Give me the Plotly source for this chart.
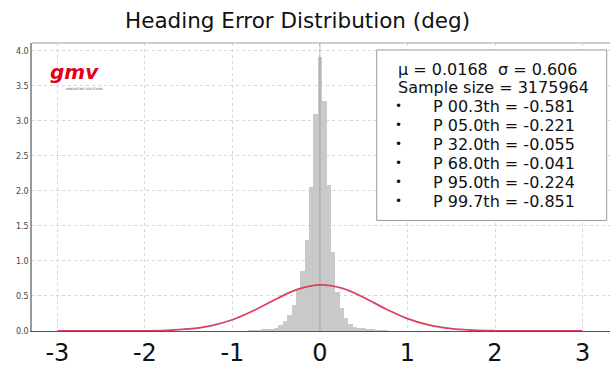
import plotly.graph_objects as go

# ---- data ----
bin_centers = [-0.80, -0.75, -0.70, -0.65, -0.60, -0.55, -0.50, -0.45, -0.40, -0.35,
               -0.30, -0.25, -0.20, -0.15, -0.10, -0.05, 0.00, 0.05, 0.10, 0.15,
               0.20, 0.25, 0.30, 0.35, 0.40, 0.45, 0.50, 0.55, 0.60, 0.65, 0.70, 0.75]
density = [0.005, 0.008, 0.01, 0.015, 0.02, 0.03, 0.04, 0.08, 0.14, 0.23,
           0.37, 0.60, 0.86, 1.30, 2.05, 3.10, 3.92, 3.29, 2.08, 1.13,
           0.56, 0.33, 0.18, 0.10, 0.06, 0.05, 0.04, 0.03, 0.02, 0.012, 0.008, 0.005]

curve_x = [-3.0, -2.5, -2.0, -1.75, -1.5, -1.25, -1.0, -0.75, -0.5, -0.25, 0.0,
           0.25, 0.5, 0.75, 1.0, 1.25, 1.5, 1.75, 2.0, 2.5, 3.0]
curve_y = [0.0, 0.0001, 0.0026, 0.0094, 0.029, 0.074, 0.161, 0.296, 0.457, 0.597, 0.658,
           0.611, 0.479, 0.316, 0.177, 0.083, 0.033, 0.011, 0.003, 0.0002, 0.0]

title = "Heading Error Distribution (deg)"
stats_lines = ["μ = 0.0168  σ = 0.606", "Sample size = 3175964"]
pct_lines = ["P 00.3th = -0.581", "P 05.0th = -0.221", "P 32.0th = -0.055",
             "P 68.0th = -0.041", "P 95.0th = -0.224", "P 99.7th = -0.851"]
x_ticks = [-3, -2, -1, 0, 1, 2, 3]
y_ticks = [0.0, 0.5, 1.0, 1.5, 2.0, 2.5, 3.0, 3.5, 4.0]

W, H = 610, 367
L, R, T, B = 32, 0, 43, 34
pw, ph = W - L - R, H - T - B

def px(xp):
    return (xp - L) / pw

def py(yp):
    return (H - B - yp) / ph

fig = go.Figure()
fig.add_trace(go.Bar(x=bin_centers, y=density, width=0.05,
                     marker=dict(color="#c9c9c9", line=dict(width=0)),
                     showlegend=False, hoverinfo="skip"))
fig.add_trace(go.Scatter(x=curve_x, y=curve_y, mode="lines", line_shape="spline",
                         line=dict(color="#d9415f", width=1.8),
                         showlegend=False, hoverinfo="skip"))

shapes = [
    dict(type="line", xref="x", yref="y", x0=0, x1=0, y0=0, y1=4.113,
         line=dict(color="rgba(120,120,120,0.45)", width=1), layer="above"),
    dict(type="line", xref="paper", yref="paper", x0=0, x1=1, y0=1, y1=1,
         line=dict(color="#a0a0a0", width=1.2)),
    dict(type="rect", xref="paper", yref="paper",
         x0=px(376.7), x1=px(606.7), y0=py(221.7), y1=py(50),
         line=dict(color="#9a9a9a", width=1), fillcolor="white", layer="above"),
]

ann = []
line_y = [69.3, 88.3, 106.7, 126, 145, 164, 183.3, 202.3]
for i, s in enumerate(stats_lines):
    ann.append(dict(x=px(396), y=py(line_y[i]), xref="paper", yref="paper", text=s,
                    showarrow=False, xanchor="left", yanchor="middle",
                    font=dict(family="DejaVu Sans", size=16, color="#111")))
for j, s in enumerate(pct_lines):
    yy = py(line_y[2 + j])
    ann.append(dict(x=px(398.5), y=yy, xref="paper", yref="paper", text="•",
                    showarrow=False, xanchor="center", yanchor="middle",
                    font=dict(family="DejaVu Sans", size=12, color="#111")))
    ann.append(dict(x=px(431), y=yy, xref="paper", yref="paper", text=s,
                    showarrow=False, xanchor="left", yanchor="middle",
                    font=dict(family="DejaVu Sans", size=16, color="#111")))

# logo
ann.append(dict(x=px(74), y=py(72), xref="paper", yref="paper", text="<b><i>gmv</i></b>",
                showarrow=False, xanchor="center", yanchor="middle",
                font=dict(family="DejaVu Sans", size=20, color="#e2001a")))
ann.append(dict(x=px(84), y=py(89), xref="paper", yref="paper", text="INNOVATING SOLUTIONS",
                showarrow=False, xanchor="center", yanchor="middle",
                font=dict(family="DejaVu Sans", size=3, color="#555")))

# title
ann.append(dict(x=px(297), y=py(20), xref="paper", yref="paper", text=title,
                showarrow=False, xanchor="center", yanchor="middle",
                font=dict(family="DejaVu Sans", size=21.5, color="#111")))

fig.update_layout(
    width=W, height=H, margin=dict(l=L, r=R, t=T, b=B),
    paper_bgcolor="white", plot_bgcolor="white",
    bargap=0, shapes=shapes, annotations=ann,
    xaxis=dict(range=[-3.29, 3.314], tickvals=x_ticks, ticktext=[str(v) for v in x_ticks],
               showgrid=True, gridcolor="#d6d6d6", griddash="dot", gridwidth=1,
               showline=True, linecolor="#555", linewidth=1.2, zeroline=False,
               ticks="", tickfont=dict(family="DejaVu Sans", size=24, color="#111")),
    yaxis=dict(range=[0, 4.113], tickvals=y_ticks, ticktext=[f"{v:.1f}" for v in y_ticks],
               showgrid=True, gridcolor="#d6d6d6", griddash="dot", gridwidth=1,
               showline=True, linecolor="#999", linewidth=1.5, zeroline=False,
               ticks="", ticklen=0,
               tickfont=dict(family="DejaVu Sans", size=8, color="#444")),
)

fig.write_html("out.html")
